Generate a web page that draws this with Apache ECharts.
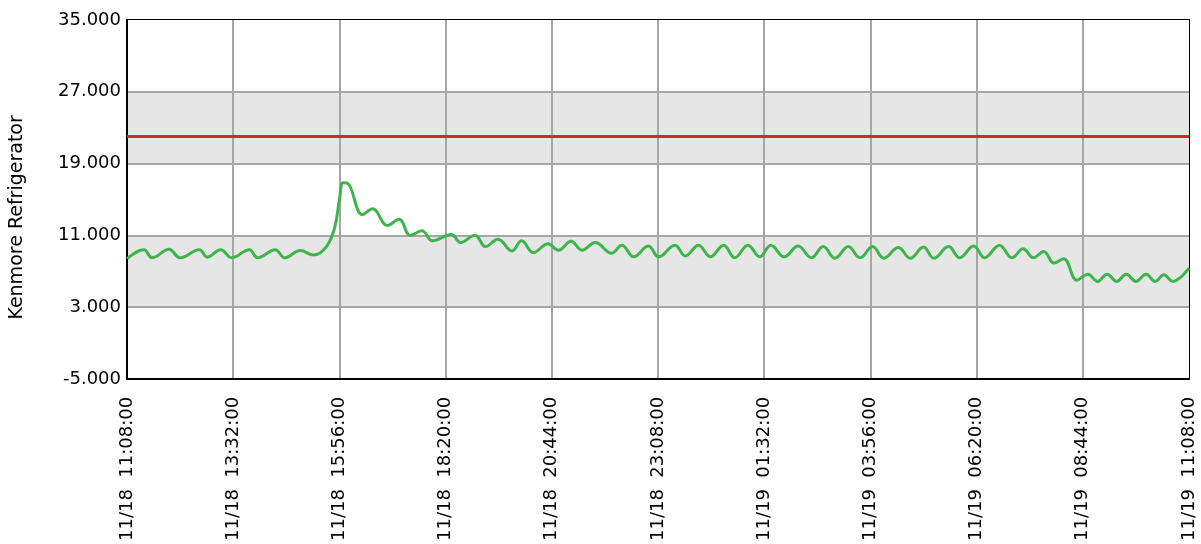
<!DOCTYPE html>
<html>
<head>
<meta charset="utf-8">
<script src="https://cdn.jsdelivr.net/npm/echarts@6/dist/echarts.min.js"></script>
<style>
  html, body { margin: 0; padding: 0; background: #fff; }
  #chart { width: 1201px; height: 544px; }
</style>
</head>
<body>
<div id="chart"></div>
<script>
// minutes after 11/18 11:08:00
var minutes = [0, 23, 34, 57, 72, 98, 109, 127, 142, 166, 177, 201, 214, 235, 253, 271, 282, 288, 293, 299,
  319, 333, 353, 369, 384, 400, 414, 440, 452, 472, 486, 503, 522, 535, 551, 571, 585, 602, 617, 635,
  657, 671, 687, 707, 721, 743, 757, 775, 791, 809, 824, 842, 858, 873, 891, 910, 928, 944, 960, 978,
  994, 1011, 1026, 1046, 1062, 1080, 1094, 1114, 1129, 1148, 1163, 1183, 1200, 1215, 1229, 1243, 1257, 1270, 1288,
  1303, 1316, 1329, 1342, 1355, 1368, 1382, 1394, 1406, 1418, 1440]
var temps = [8.4, 9.4, 8.5, 9.44, 8.5, 9.4, 8.56, 9.4, 8.5, 9.4, 8.5, 9.4, 8.5, 9.3, 8.8, 9.8, 12.0, 15.0, 16.85, 16.8,
  13.3, 13.96, 12.1, 12.8, 11.0, 11.5, 10.4, 11.1, 10.2, 11.0, 9.74, 10.56, 9.26, 10.4, 9.07, 10.07, 9.33, 10.33, 9.33, 10.2,
  9.0, 9.9, 8.6, 9.8, 8.6, 9.9, 8.7, 9.9, 8.6, 9.9, 8.5, 9.9, 8.6, 9.9, 8.6, 9.8, 8.5, 9.74, 8.44, 9.74,
  8.5, 9.74, 8.44, 9.63, 8.44, 9.7, 8.44, 9.74, 8.5, 9.8, 8.5, 9.9, 8.5, 9.5, 8.5, 9.2, 7.9, 8.4, 6.0,
  6.67, 5.86, 6.67, 5.86, 6.67, 5.86, 6.67, 5.86, 6.6, 5.86, 7.33]
var threshold = 22
var startTime = new Date(2023, 10, 18, 11, 8, 0)

function pad(n) { return (n < 10 ? '0' : '') + n }
function timeLabel(m) {
  var d = new Date(startTime.getTime() + m * 60000)
  return pad(d.getMonth() + 1) + '/' + pad(d.getDate()) + '  ' +
    pad(d.getHours()) + ':' + pad(d.getMinutes()) + ':' + pad(d.getSeconds())
}

var chart = echarts.init(document.getElementById('chart'))
var font = 'DejaVu Sans'

chart.setOption({
  animation: false,
  grid: {
    left: 127, top: 20, right: 12, bottom: 164,
    show: true, borderColor: '#000', borderWidth: 2, backgroundColor: 'transparent'
  },
  xAxis: {
    type: 'value',
    min: 0, max: 1440, interval: 144,
    axisLine: { onZero: false, lineStyle: { color: '#000', width: 2 } },
    axisTick: { show: false },
    splitLine: { showMinLine: false, showMaxLine: false, lineStyle: { color: '#a6a6a6', width: 2 } },
    axisLabel: {
      rotate: 90, margin: 18, color: '#000', fontFamily: font, fontSize: 18,
      formatter: function (v) { return timeLabel(v) }
    }
  },
  yAxis: {
    type: 'value',
    min: -5, max: 35, interval: 8,
    name: 'Kenmore Refrigerator',
    nameLocation: 'middle', nameGap: 100, nameRotate: 90,
    nameTextStyle: { color: '#000', fontFamily: font, fontSize: 19, padding: [0, 36, 0, 0] },
    axisLine: { show: true, onZero: false, lineStyle: { color: '#000', width: 2 } },
    axisTick: { show: false },
    splitLine: { showMinLine: false, showMaxLine: false, lineStyle: { color: '#a6a6a6', width: 2 } },
    splitArea: { show: true, areaStyle: { color: ['#ffffff', '#e6e6e6'] } },
    axisLabel: {
      margin: 6, color: '#000', fontFamily: font, fontSize: 18,
      formatter: function (v) { return v.toFixed(3) }
    }
  },
  series: [{
    type: 'line',
    data: minutes.map(function (m, i) { return [m, temps[i]] }),
    smooth: 0.4,
    showSymbol: false,
    lineStyle: { color: '#3db54a', width: 3 },
    markLine: {
      silent: true,
      symbol: 'none',
      label: { show: false },
      lineStyle: { color: '#d7262d', width: 3, type: 'solid' },
      data: [{ yAxis: threshold }]
    }
  }]
})
</script>
</body>
</html>
